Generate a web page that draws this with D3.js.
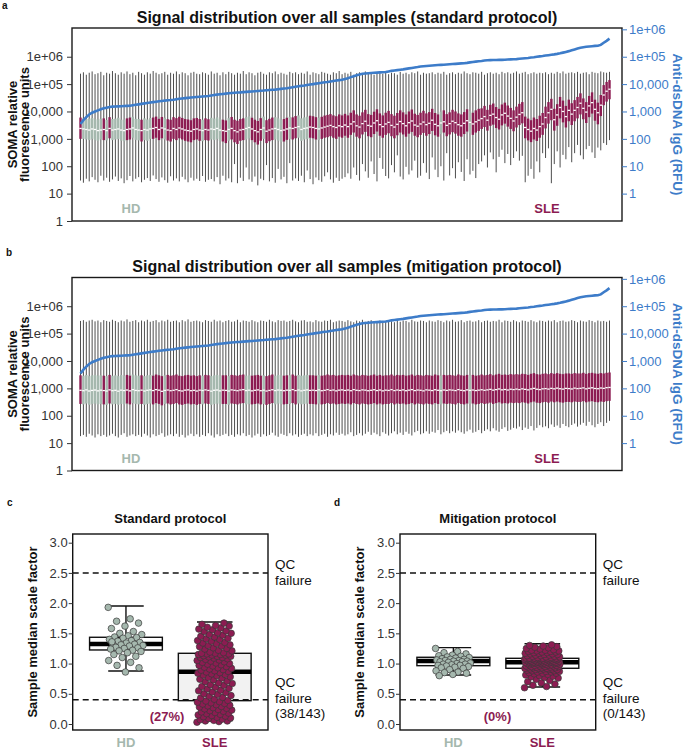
<!DOCTYPE html>
<html><head><meta charset="utf-8">
<script src="https://cdn.jsdelivr.net/npm/d3@7"></script>
<style>body{margin:0;background:#fff}svg{display:block}</style>
</head><body><svg id="chart" width="685" height="749"></svg>
<script>
// ---------------- DATA ----------------
// sample order (sorted by anti-dsDNA), H = healthy donor, S = SLE
const sampleGroup = ("SHHHHHHHSH"+"SHHHHHSSHH"+"HSHHHSSSSH"+"SSSSSSSSSS"+"SSHSSHHHHS"+
  "SHSSSSSHHS"+"SSSHSSSHHH"+"SSHSSHHHHS"+"SSHSSSSSSS"+"SSSSSSSSSS"+
  "SSSSSSSSSS"+"SSSSSSSSSS"+"SSSSHSSSSS"+"SSSSHSSSSS"+"SSSSSSSSSS"+
  "SSSSSSSSSS"+"SSSSSSSSSS"+"SSSSSSSSSS"+"SSS").split("");

// anti-dsDNA IgG (RFU) per sample
const dsdna = [350,480,620,780,900,1000,1100,1200,1300,1380,
 1450,1500,1520,1540,1560,1580,1600,1620,1680,1750,
 1820,1900,1980,2050,2120,2200,2280,2350,2420,2500,
 2560,2620,2700,2800,2900,3000,3080,3150,3220,3300,
 3380,3450,3520,3600,3700,3850,4000,4120,4250,4380,
 4500,4620,4750,4850,4950,5000,5100,5200,5300,5400,
 5500,5600,5700,5800,5950,6100,6200,6300,6500,6700,
 6900,7100,7400,7700,8000,8300,8600,8900,9300,9700,
 10000,10400,10800,11200,11600,12000,12500,13000,13500,14000,
 14500,15400,16500,18000,19500,21000,22500,24000,24500,25000,
 25500,26000,26300,26700,27000,27500,29000,30500,31600,32500,
 33500,34500,36000,37500,39000,40500,42000,44000,45000,46000,
 47000,48000,49000,50000,50500,51000,52000,53000,54000,55000,
 56000,57000,58000,59500,62000,64000,66000,68000,70000,73000,
 74000,75000,75500,76000,76500,77000,78000,79000,80000,81000,
 82000,84000,86000,88000,90000,93000,96000,100000,103000,106000,
 110000,114000,118000,122000,127000,133000,141000,150000,160000,172000,
 185000,200000,213000,222000,230000,236000,242000,248000,252000,270000,
 324000,380000,457000];

// Panel a: standard protocol, per-sample SOMA RFU box stats
const medA = [2400,2300,2200,2100,2300,2200,2000,2100,2200,2000, 2400,2100,2200,2300,2100,2000,2200,2300,2500,2200,
 2100,2000,2200,2100,2300,2400,2600,2200,2500,2300, 2100,2000,2400,2200,2500,2300,2100,2000,1900,2200, 2300,2100,2000,2200,2100,
 2300,2200,2400,2100,2000,1900,2200,2400,2000,1800, 2100,2200,2400,2600,2300,2000,1800,2200,2500,1900,
 2100,2300,2400,2200,2000,2100,2300,2500,2400,2600, 2800,2200,2400,2500,2700,2600,2400,2300,2500,2700, 2900,3100,2800,2600,3000,2800,
 3200,2800,3500,4200,3000,2700,3600,4400,3100,2900, 3800,4600,3300,2800,3500,4000,3100,2700,3400,4300,
 3600,3000,3900,4500,3200,2900,3500,4100,3300,3700, 4800,3400,3000,3800,4200,3100,3600,4400,3900,3300, 3000,3700,4600,4000,3500,4200,4800,
 5500,6500,4800,7200,8000,6000,5200,7500,8600,6800,5600,4500,6200,7800,9000, 2600,2200,1900,2400,2100,2800,3500,
 6000,9000,12000,5000,7500,14000,10000,6500,11000,8000, 11000,14000,20000,13000,9500,16000,21000,12000,9000,17000, 40000,55000,65000];
const q3A = [6000,5600,5300,5500,5800,5200,5100,5400,5600,4900, 6200,5300,5500,5900,5000,5100,5600,6000,6400,5400,
 5300,5000,5600,5100,5800,6000,6500,5400,6300,5900, 5200,5000,6200,5700,6400,5800,5300,5100,4800,5600, 5800,5300,5000,5600,5200,
 5900,5500,6100,5300,5000,4700,5700,6300,5000,4600, 5300,5600,6200,6700,5900,5000,4500,5700,6500,4800,
 5400,6000,6200,5600,5000,5300,5900,6400,6100,6800, 7200,5600,6100,6500,7000,6700,6200,5900,6400,7100, 7500,8000,7200,6700,7800,7200,
 8200,7200,9000,11000,7800,7000,9300,11500,8000,7500, 9800,12000,8500,7200,9000,10500,8000,7000,8800,11000,
 9300,7800,10000,11800,8300,7500,9000,10600,8500,9500, 12500,8800,7800,9800,11000,8000,9300,11500,10000,8500, 7800,9500,12000,10300,9000,11000,12500,
 13000,16000,11500,17500,19500,14500,12500,18000,21000,16500,13500,11000,15000,19000,22000, 6500,5500,4800,6000,5300,7000,8800,
 15000,22000,29000,12500,18500,34000,25000,16000,27000,20000, 26000,34000,46000,30000,22000,37000,50000,27000,21000,40000, 92000,120000,140000];
const q1A = [1000,1000,950,900,1000,900,850,950,900,880, 1050,900,950,980,860,820,900,950,1100,920,
 880,800,900,850,1000,1000,1100,900,1050,950, 870,800,1000,900,1050,950,850,800,750,900, 950,850,820,900,870,
 950,900,1000,850,800,700,850,950,750,650, 850,900,950,1050,900,750,620,850,1000,700,
 820,900,950,860,780,800,920,1000,950,1050, 1100,850,950,1000,1100,1050,950,900,1000,1100, 1150,1250,1100,1000,1200,1100,
 1300,1100,1400,1700,1200,1050,1450,1800,1250,1150, 1500,1850,1300,1100,1400,1600,1250,1050,1350,1700,
 1450,1200,1550,1800,1300,1150,1400,1650,1300,1500, 1950,1350,1200,1500,1700,1250,1450,1750,1550,1300, 1200,1500,1850,1600,1400,1700,1950,
 2300,2700,2000,3000,3300,2500,2200,3100,3600,2800,2300,1900,2600,3200,3700, 1050,880,760,950,840,1100,1400,
 2400,3600,4800,2000,3000,5600,4000,2600,4400,3200, 4400,5600,7800,5200,3800,6200,8400,4600,3400,6800, 17000,23000,28000];
const loA = [30,25,35,28,40,32,26,45,30,38, 27,33,42,29,36,24,31,44,28,35, 40,26,32,37,29,46,34,27,39,31, 25,43,30,36,28,41,33,26,38,30, 35,29,44,27,32,
 34,28,40,22,45,30,36,26,120,24, 38,29,90,33,27,42,20,35,31,110, 28,37,25,80,33,41,24,130,30,36, 29,45,26,70,34,22,39,31,27,43, 60,33,25,38,29,35,
 40,55,35,90,48,30,120,65,38,150, 52,28,200,80,44,36,110,60,250,42, 33,95,50,70,160,38,45,130,58,34, 210,75,40,100,30,300,46,85,36,140, 62,29,180,50,68,37,120,
 150,250,90,320,180,60,220,400,130,280,110,200,350,160,240, 26,45,80,35,150,60,300,
 200,450,24,120,350,90,260,180, 500,140,300,600,250,180,420,550,320,200, 480,380,700,600,900];
const hiA = [2.4e5,2.7e5,2.2e5,2.6e5,2.9e5,2.3e5,2.5e5,2.8e5,2.1e5,2.6e5, 2.4e5,3.0e5,2.5e5,2.2e5,2.7e5,2.4e5,2.9e5,2.3e5,2.6e5,2.1e5,
 2.8e5,2.5e5,2.2e5,2.7e5,2.4e5,3.0e5,2.6e5,2.3e5,2.5e5,2.8e5, 2.2e5,2.6e5,2.4e5,2.9e5,2.3e5,2.7e5,2.5e5,2.1e5,2.6e5,2.8e5,
 2.4e5,2.3e5,2.7e5,2.5e5,2.2e5,2.9e5,2.4e5,2.6e5,2.1e5,2.7e5, 2.3e5,2.8e5,2.5e5,2.2e5,2.6e5,2.4e5,3.0e5,2.3e5,2.7e5,2.5e5,
 2.1e5,2.6e5,2.8e5,2.4e5,2.2e5,2.7e5,2.5e5,2.9e5,2.3e5,2.6e5, 2.4e5,2.2e5,2.8e5,2.5e5,2.7e5,2.3e5,2.6e5,2.4e5,2.9e5,2.2e5,
 2.7e5,2.5e5,2.3e5,2.8e5,2.6e5,2.4e5,2.2e5,2.7e5,2.5e5,3.0e5, 2.3e5,2.6e5,2.4e5,2.8e5,2.2e5,2.5e5,2.7e5,2.3e5,2.9e5,2.4e5,
 2.6e5,2.2e5,2.5e5,2.8e5,2.4e5,2.7e5,2.3e5,2.6e5,2.5e5,2.2e5, 2.8e5,2.4e5,2.6e5,2.3e5,2.7e5,2.5e5,2.9e5,2.2e5,2.6e5,2.4e5,
 2.5e5,2.7e5,2.3e5,2.6e5,2.4e5,2.8e5,2.2e5,2.5e5,2.7e5,2.3e5, 2.6e5,2.4e5,2.9e5,2.5e5,2.3e5,2.7e5,2.6e5,2.4e5,2.8e5,2.2e5,
 2.5e5,2.7e5,2.4e5,2.6e5,2.3e5,2.8e5,2.5e5,2.7e5,2.4e5,2.6e5, 2.9e5,2.4e5,2.6e5,2.8e5,2.3e5,2.5e5,2.7e5,2.4e5,2.6e5,2.5e5,
 2.7e5,2.3e5,2.6e5,2.4e5,2.8e5,2.5e5,2.9e5,2.4e5,2.6e5,2.7e5, 2.5e5,2.8e5,2.4e5,2.6e5,2.7e5,2.3e5,2.8e5,2.6e5,2.5e5,2.9e5,
 2.7e5,2.6e5,2.8e5];

// Panel b: mitigation protocol, per-sample SOMA RFU box stats
const medB = [850,820,880,800,840,870,810,860,830,800, 880,820,850,790,860,830,870,810,900,840,
 820,860,800,850,880,830,900,860,780,840, 870,820,850,900,830,800,860,880,820,850,
 800,860,830,880,840,790,850,870,810,860, 840,800,880,850,820,870,900,830,860,810,
 850,880,820,860,800,840,890,830,870,850, 820,860,840,900,830,870,810,850,880,840,
 860,830,880,820,850,900,840,870,810,860, 880,840,870,820,900,850,830,880,860,820,
 850,890,830,870,810,860,840,900,830,870, 840,880,820,860,900,830,870,850,810,880,
 860,830,890,850,820,870,840,880,860,830, 900,850,820,880,840,870,830,860,890,850,
 880,920,860,900,950,880,910,870,930,900, 940,900,960,920,880,950,1000,930,900,960,
 980,940,1000,960,1020,970,940,1000,980,950, 1020,980,1000,1040,960,1010,1050,990,970,1030,
 1000,1060,1080];
const q3B = [3000,2900,3100,2800,3000,3100,2900,3000,2900,2800, 3100,2900,3000,2800,3100,2900,3100,2900,3200,3000,
 2900,3000,2800,3000,3100,2900,3200,3000,2800,3000, 3100,2900,3000,3200,2900,2800,3000,3100,2900,3000,
 2800,3000,2900,3100,3000,2800,3000,3100,2900,3000, 3000,2800,3100,3000,2900,3100,3200,2900,3000,2900,
 3000,3100,2900,3000,2800,3000,3200,2900,3100,3000, 2900,3000,3000,3200,2900,3100,2900,3000,3100,3000,
 3000,2900,3100,2900,3000,3200,3000,3100,2900,3000, 3100,3000,3100,2900,3200,3000,2900,3100,3000,2900,
 3000,3200,2900,3100,2900,3000,3000,3200,2900,3100, 3000,3100,2900,3000,3200,2900,3100,3000,2900,3100,
 3000,2900,3200,3000,2900,3100,3000,3100,3000,2900, 3200,3000,2900,3100,3000,3100,2900,3000,3200,3000,
 3100,3300,3000,3200,3400,3100,3200,3100,3300,3200, 3300,3200,3400,3300,3100,3400,3600,3300,3200,3400,
 3500,3300,3600,3400,3600,3400,3300,3500,3500,3400, 3600,3500,3500,3700,3400,3600,3700,3500,3400,3600,
 3500,3700,3800];
const q1B = [270,260,280,250,270,280,260,270,260,250, 280,260,270,250,270,260,280,260,290,270,
 260,270,250,270,280,260,290,270,240,270, 280,260,270,290,260,250,270,280,260,270,
 250,270,260,280,270,250,270,280,260,270, 270,250,280,270,260,280,290,260,270,260,
 270,280,260,270,250,270,290,260,280,270, 260,270,270,290,260,280,260,270,280,270,
 270,260,280,260,270,290,270,280,260,270, 280,270,280,260,290,270,260,280,270,260,
 270,290,260,280,260,270,270,290,260,280, 270,280,260,270,290,260,280,270,260,280,
 270,260,290,270,260,280,270,280,270,260, 290,270,260,280,270,280,260,270,290,270,
 280,300,270,290,310,280,290,280,300,290, 300,290,310,300,280,310,330,300,290,310,
 320,300,330,310,330,310,300,320,320,310, 330,320,320,340,310,330,340,320,310,330,
 320,340,350];
const loB = [18,20,17,22,19,16,21,18,20,17, 19,22,18,16,20,23,17,19,21,18,
 20,17,22,19,16,21,18,20,23,17, 19,21,18,22,17,20,16,19,22,18,
 21,17,20,18,23,19,16,21,18,20, 22,18,20,17,21,19,23,18,20,16,
 19,22,17,21,18,20,24,19,17,22, 20,18,23,19,21,17,20,22,18,21,
 19,23,18,20,22,17,21,19,24,20, 22,19,21,25,18,20,23,19,22,26,
 20,24,21,18,25,22,19,23,27,21, 24,20,26,22,19,25,28,21,23,27,
 22,26,24,30,21,25,28,23,27,24, 29,25,22,27,31,24,26,30,23,28,
 32,27,35,29,26,33,38,28,31,36, 34,40,30,37,33,42,29,36,45,38,
 41,35,48,39,44,36,50,42,38,46, 52,40,47,55,43,60,45,38,50,58,
 42,55,65];
const hiB = [2.9e5,3.1e5,2.7e5,3.0e5,3.2e5,2.8e5,3.0e5,2.6e5,3.1e5,2.9e5, 2.7e5,3.2e5,2.9e5,2.6e5,3.0e5,2.8e5,3.3e5,2.7e5,2.9e5,3.1e5,
 2.6e5,3.0e5,2.8e5,3.2e5,2.7e5,2.9e5,3.1e5,2.6e5,3.0e5,2.8e5, 3.2e5,2.7e5,2.9e5,3.0e5,2.6e5,3.1e5,2.8e5,3.3e5,2.7e5,2.9e5,
 3.0e5,2.8e5,2.6e5,3.1e5,2.9e5,2.7e5,3.2e5,2.8e5,3.0e5,2.6e5, 2.9e5,3.1e5,2.7e5,2.8e5,3.2e5,2.6e5,3.0e5,2.9e5,2.7e5,3.1e5,
 2.8e5,2.6e5,3.0e5,2.9e5,2.7e5,3.2e5,2.8e5,2.6e5,3.1e5,2.9e5, 3.0e5,2.7e5,2.9e5,3.2e5,2.8e5,2.6e5,3.0e5,3.1e5,2.7e5,2.8e5,
 2.6e5,3.1e5,2.8e5,2.7e5,3.0e5,2.9e5,3.2e5,2.6e5,2.8e5,3.0e5, 2.9e5,2.7e5,3.1e5,2.8e5,2.6e5,3.0e5,2.8e5,3.2e5,2.7e5,2.9e5,
 3.1e5,2.8e5,2.6e5,3.0e5,2.9e5,2.7e5,3.1e5,2.8e5,2.6e5,3.0e5, 2.7e5,3.0e5,2.9e5,2.6e5,3.2e5,2.8e5,2.7e5,3.0e5,2.9e5,2.6e5,
 3.0e5,2.8e5,2.7e5,3.1e5,2.9e5,2.6e5,3.0e5,2.8e5,3.2e5,2.7e5, 2.8e5,3.1e5,2.6e5,2.9e5,3.0e5,2.7e5,2.8e5,3.1e5,2.6e5,2.9e5,
 3.0e5,2.7e5,2.9e5,2.8e5,3.2e5,2.6e5,3.0e5,2.9e5,2.7e5,3.1e5, 2.8e5,2.6e5,3.0e5,2.9e5,2.7e5,3.1e5,2.8e5,2.6e5,3.0e5,2.9e5,
 2.7e5,3.0e5,2.8e5,3.1e5,2.6e5,2.9e5,3.0e5,2.7e5,2.8e5,3.1e5, 2.9e5,2.6e5,3.0e5,2.8e5,2.7e5,3.1e5,2.9e5,2.6e5,3.0e5,2.8e5,
 2.9e5,2.7e5,3.0e5];

const logTicks = [1,10,100,1000,10000,100000,1000000];
const logTickLabels = ["1","10","100","1,000","10,000","1e+05","1e+06"];

// Panels c/d: sample median scale factor
const scaleGroups = ["HD","SLE"];
const scaleTicks = [0,0.5,1,1.5,2,2.5,3];
const qcUpper = 2.5, qcLower = 0.4;
const stdHD = [1.93,1.74,1.70,1.67,1.62,1.58,1.53,1.50,1.48,1.46,1.44,1.43,1.42,1.40,1.38,1.37,1.35,1.34,1.33,1.32,
 1.31,1.30,1.29,1.27,1.26,1.25,1.24,1.22,1.21,1.20,1.18,1.15,1.12,1.10,1.05,1.02,0.97,0.93,0.86,1.36];
const stdSLE = [0.03,0.04,0.05,0.05,0.06,0.07,0.08,0.09,0.10,0.11,0.12,0.13,0.14,0.15,0.16,0.17,0.18,0.19,0.20,0.21,
 0.22,0.23,0.24,0.25,0.26,0.27,0.28,0.29,0.30,0.31,0.32,0.33,0.34,0.35,0.36,0.37,0.38,0.39,
 0.41,0.43,0.44,0.46,0.47,0.49,0.50,0.52,0.53,0.55,0.56,0.58,0.59,0.61,0.62,0.64,0.65,0.67,0.68,0.70,
 0.71,0.73,0.74,0.76,0.77,0.78,0.80,0.81,0.82,0.83,0.84,0.85,0.86,0.87,
 0.88,0.89,0.90,0.91,0.92,0.93,0.94,0.95,0.96,0.97,0.98,0.99,1.00,1.01,1.02,1.03,1.04,1.05,1.06,1.07,
 1.08,1.09,1.10,1.10,1.11,1.12,1.12,1.13,1.14,1.14,1.15,1.15,1.16,1.16,1.17,1.17,
 1.18,1.19,1.21,1.22,1.24,1.25,1.26,1.28,1.29,1.30,1.31,1.33,1.34,1.35,1.37,1.38,1.40,1.41,1.42,1.44,
 1.45,1.47,1.48,1.50,1.51,1.53,1.54,1.56,1.57,1.59,1.60,1.62,1.63,1.65,1.67];
const mitHD = [1.25,1.20,1.18,1.16,1.14,1.13,1.12,1.11,1.10,1.09,1.08,1.07,1.07,1.06,1.05,1.05,1.04,1.04,1.03,1.03,
 1.02,1.01,1.00,0.99,0.99,0.98,0.97,0.97,0.96,0.95,0.94,0.93,0.92,0.90,0.88,0.86,0.85,0.84,0.82,0.80];
const mitSLE = [0.60,0.62,0.64,0.66,0.68,0.70,0.72,0.74,0.76,0.77,0.78,0.79,0.80,0.81,0.82,0.83,0.84,0.84,0.85,0.86,
 0.86,0.87,0.87,0.88,0.88,0.89,0.89,0.90,0.90,0.90,0.91,0.91,0.91,0.92,0.92,0.92,
 0.93,0.93,0.93,0.94,0.94,0.94,0.95,0.95,0.95,0.96,0.96,0.96,0.97,0.97,0.97,0.98,0.98,0.98,0.99,0.99,
 0.99,1.00,1.00,1.00,1.00,1.01,1.01,1.01,1.01,1.02,1.02,1.02,1.02,1.02,1.02,1.02,
 1.03,1.03,1.03,1.03,1.04,1.04,1.04,1.04,1.05,1.05,1.05,1.05,1.06,1.06,1.06,1.06,1.07,1.07,1.07,1.07,
 1.07,1.08,1.08,1.08,1.08,1.08,1.09,1.09,1.09,1.09,1.09,1.09,1.09,1.09,1.09,1.09,
 1.10,1.10,1.11,1.11,1.12,1.12,1.13,1.13,1.14,1.14,1.15,1.15,1.16,1.16,1.17,1.17,1.18,1.18,1.19,1.19,
 1.20,1.20,1.21,1.21,1.22,1.22,1.23,1.24,1.25,1.26,1.27,1.28,1.29,1.30,1.31];
// box stats: [lower whisker, Q1, median, Q3, upper whisker]
const stdHDStats = [0.877,1.225,1.324,1.435,1.953];
const stdSLEStats = [0.055,0.386,0.866,1.170,1.688];
const mitHDStats = [0.811,0.965,1.043,1.104,1.263];
const mitSLEStats = [0.612,0.922,1.021,1.087,1.329];

// ---------------- DRAWING ----------------
const FONT = '"Liberation Sans", Arial, Helvetica, sans-serif';
const C_SLE = "#8C1C52", C_HD = "#A5B8AE", C_BLUE = "#3D7CC9", C_TXT = "#333333";
const svg = d3.select("#chart").attr("font-family", FONT);
const N = sampleGroup.length;
const DEC = 27.38;

function txt(x, y, s, o = {}) {
  const t = svg.append("text").attr("x", x).attr("y", y).text(s)
    .attr("font-size", o.size || 13).attr("font-weight", o.bold ? "bold" : "normal")
    .attr("fill", o.fill || "#111").attr("text-anchor", o.anchor || "start");
  if (o.rot) t.attr("transform", `rotate(${o.rot},${x},${y})`);
  return t;
}

function styleAxis(g, color) {
  g.attr("font-family", FONT);
  g.select(".domain").remove();
  g.selectAll(".tick line").attr("stroke", color).attr("stroke-width", 1);
  g.selectAll(".tick text").attr("fill", color).attr("font-size", 13);
}

function drawSignal(o) {
  const bottom = o.bottom, top = bottom - 193, left = 72, right = 622;
  const g = svg.append("g");
  const x = d3.scalePoint().domain(d3.range(N)).range([80.5, 609.5]);
  const yL = d3.scaleLog().domain([1, 1e6]).range([bottom, bottom - 6 * DEC]);
  const yR = d3.scaleLog().domain([0.1, 1e5]).range([bottom, bottom - 6 * DEC]);
  const bw = 2.4;
  const idx = d3.range(N);
  g.selectAll("line.w").data(idx).join("line").attr("class", "w")
    .attr("x1", i => x(i)).attr("x2", i => x(i))
    .attr("y1", i => yL(o.lo[i])).attr("y2", i => yL(o.hi[i]))
    .attr("stroke", "#3a3a3a").attr("stroke-width", 0.9);
  g.selectAll("rect.b").data(idx).join("rect").attr("class", "b")
    .attr("x", i => x(i) - bw / 2).attr("width", bw)
    .attr("y", i => yL(o.q3[i])).attr("height", i => yL(o.q1[i]) - yL(o.q3[i]))
    .attr("fill", i => sampleGroup[i] === "H" ? C_HD : C_SLE);
  g.selectAll("line.m").data(idx).join("line").attr("class", "m")
    .attr("x1", i => x(i) - bw / 2).attr("x2", i => x(i) + bw / 2)
    .attr("y1", i => yL(o.med[i])).attr("y2", i => yL(o.med[i]))
    .attr("stroke", "#fff").attr("stroke-width", 1.3);
  g.append("path").datum(dsdna)
    .attr("d", d3.line().x((d, i) => x(i)).y(d => yR(d)))
    .attr("fill", "none").attr("stroke", C_BLUE).attr("stroke-width", 2.6);
  g.append("rect").attr("x", left).attr("y", top).attr("width", right - left).attr("height", bottom - top)
    .attr("fill", "none").attr("stroke", "#1a1a1a").attr("stroke-width", 1.4);
  const ax = g.append("g").attr("transform", `translate(${left},0)`)
    .call(d3.axisLeft(yL).tickValues(logTicks).tickFormat((d, i) => logTickLabels[i]).tickSize(5).tickPadding(4));
  styleAxis(ax, C_TXT);
  const axr = g.append("g").attr("transform", `translate(${right},0)`)
    .call(d3.axisRight(yR).tickValues(logTicks).tickFormat((d, i) => logTickLabels[i]).tickSize(5).tickPadding(2));
  styleAxis(axr, C_BLUE);
  const cy = (top + bottom) / 2;
  txt(347, o.titleY, o.title, { size: 16, bold: true, anchor: "middle" });
  txt(17, cy, "SOMA relative", { bold: true, anchor: "middle", rot: -90 });
  txt(29, cy, "fluorescence units", { bold: true, anchor: "middle", rot: -90 });
  txt(673, cy, "Anti-dsDNA IgG (RFU)", { bold: true, anchor: "middle", rot: 90, fill: C_BLUE, size: 13.5 });
  txt(131, bottom - 8, "HD", { bold: true, anchor: "middle", fill: C_HD });
  txt(547, bottom - 8, "SLE", { bold: true, anchor: "middle", fill: C_SLE });
}

function drawScale(o) {
  const top = 534, bottom = 730;
  const g = svg.append("g");
  const x = d3.scalePoint().domain(scaleGroups).range([o.left, o.right]).padding(0.6);
  const y = d3.scaleLinear().domain([0, 3]).range([724, 542.7]);
  const step = x.step(), bw = 0.82 * step, cw = 0.4 * step;
  [["HD", o.hdStats, o.hdFill], ["SLE", o.sleStats, o.sleFill]].forEach(([k, s, fill]) => {
    const cx = x(k);
    g.append("line").attr("x1", cx).attr("x2", cx).attr("y1", y(s[0])).attr("y2", y(s[4]))
      .attr("stroke", "#111").attr("stroke-width", 1.4);
    [s[0], s[4]].forEach(v => g.append("line").attr("x1", cx - cw / 2).attr("x2", cx + cw / 2)
      .attr("y1", y(v)).attr("y2", y(v)).attr("stroke", "#111").attr("stroke-width", 1.4));
    g.append("rect").attr("x", cx - bw / 2).attr("width", bw).attr("y", y(s[3])).attr("height", y(s[1]) - y(s[3]))
      .attr("fill", fill).attr("stroke", "#111").attr("stroke-width", 1.4);
    g.append("line").attr("x1", cx - bw / 2).attr("x2", cx + bw / 2).attr("y1", y(s[2])).attr("y2", y(s[2]))
      .attr("stroke", "#000").attr("stroke-width", 4.5);
  });
  [qcUpper, qcLower].forEach(v => g.append("line").attr("x1", o.left).attr("x2", o.right)
    .attr("y1", y(v)).attr("y2", y(v)).attr("stroke", "#111").attr("stroke-width", 1.5)
    .attr("stroke-dasharray", "6,4"));
  const jit = 0.2 * step;
  [["HD", o.hd, C_HD], ["SLE", o.sle, C_SLE]].forEach(([k, vals, col]) => {
    g.selectAll(null).data(vals).join("circle")
      .attr("cx", (d, i) => x(k) + (((i * 0.6180339887) % 1) - 0.5) * 2 * jit)
      .attr("cy", d => y(d)).attr("r", 3.3)
      .attr("fill", col).attr("stroke", "#3a3a3a").attr("stroke-width", 0.7);
  });
  g.append("rect").attr("x", o.left).attr("y", top).attr("width", o.right - o.left).attr("height", bottom - top)
    .attr("fill", "none").attr("stroke", "#111").attr("stroke-width", 1.4);
  const ax = g.append("g").attr("transform", `translate(${o.left},0)`)
    .call(d3.axisLeft(y).tickValues(scaleTicks).tickFormat(d3.format(".1f")).tickSize(4).tickPadding(1));
  styleAxis(ax, C_TXT);
  txt((o.left + o.right) / 2, 523, o.title, { bold: true, anchor: "middle" });
  txt(o.left - 36, (top + bottom) / 2, "Sample median scale factor", { bold: true, anchor: "middle", rot: -90 });
  txt(x("HD"), 747, "HD", { bold: true, anchor: "middle", fill: C_HD });
  txt(x("SLE"), 747, "SLE", { bold: true, anchor: "middle", fill: C_SLE });
  const lx = o.right + 7;
  txt(lx, 569, "QC", { size: 13.5 });
  txt(lx, 585, "failure", { size: 13.5 });
  txt(lx, 687, "QC", { size: 13.5 });
  txt(lx, 703, "failure", { size: 13.5 });
  txt(lx, 718, o.count, { size: 13.5 });
  txt(o.pctX, 721, o.pct, { bold: true, anchor: "middle", fill: C_SLE });
}

drawSignal({ bottom: 221, titleY: 22.5, title: "Signal distribution over all samples (standard protocol)",
  med: medA, q1: q1A, q3: q3A, lo: loA, hi: hiA });
drawSignal({ bottom: 470.5, titleY: 272, title: "Signal distribution over all samples (mitigation protocol)",
  med: medB, q1: q1B, q3: q3B, lo: loB, hi: hiB });
drawScale({ left: 72.7, right: 268, title: "Standard protocol", hd: stdHD, sle: stdSLE,
  hdStats: stdHDStats, sleStats: stdSLEStats, hdFill: "#ffffff", sleFill: "#f2f2f2",
  count: "(38/143)", pct: "(27%)", pctX: 167 });
drawScale({ left: 400, right: 595.7, title: "Mitigation protocol", hd: mitHD, sle: mitSLE,
  hdStats: mitHDStats, sleStats: mitSLEStats, hdFill: "#ffffff", sleFill: "#ffffff",
  count: "(0/143)", pct: "(0%)", pctX: 497.5 });

txt(2, 9, "a", { size: 10, bold: true });
txt(6, 256, "b", { size: 10, bold: true });
txt(7, 506, "c", { size: 10, bold: true });
txt(334, 506, "d", { size: 10, bold: true });
</script></body></html>
